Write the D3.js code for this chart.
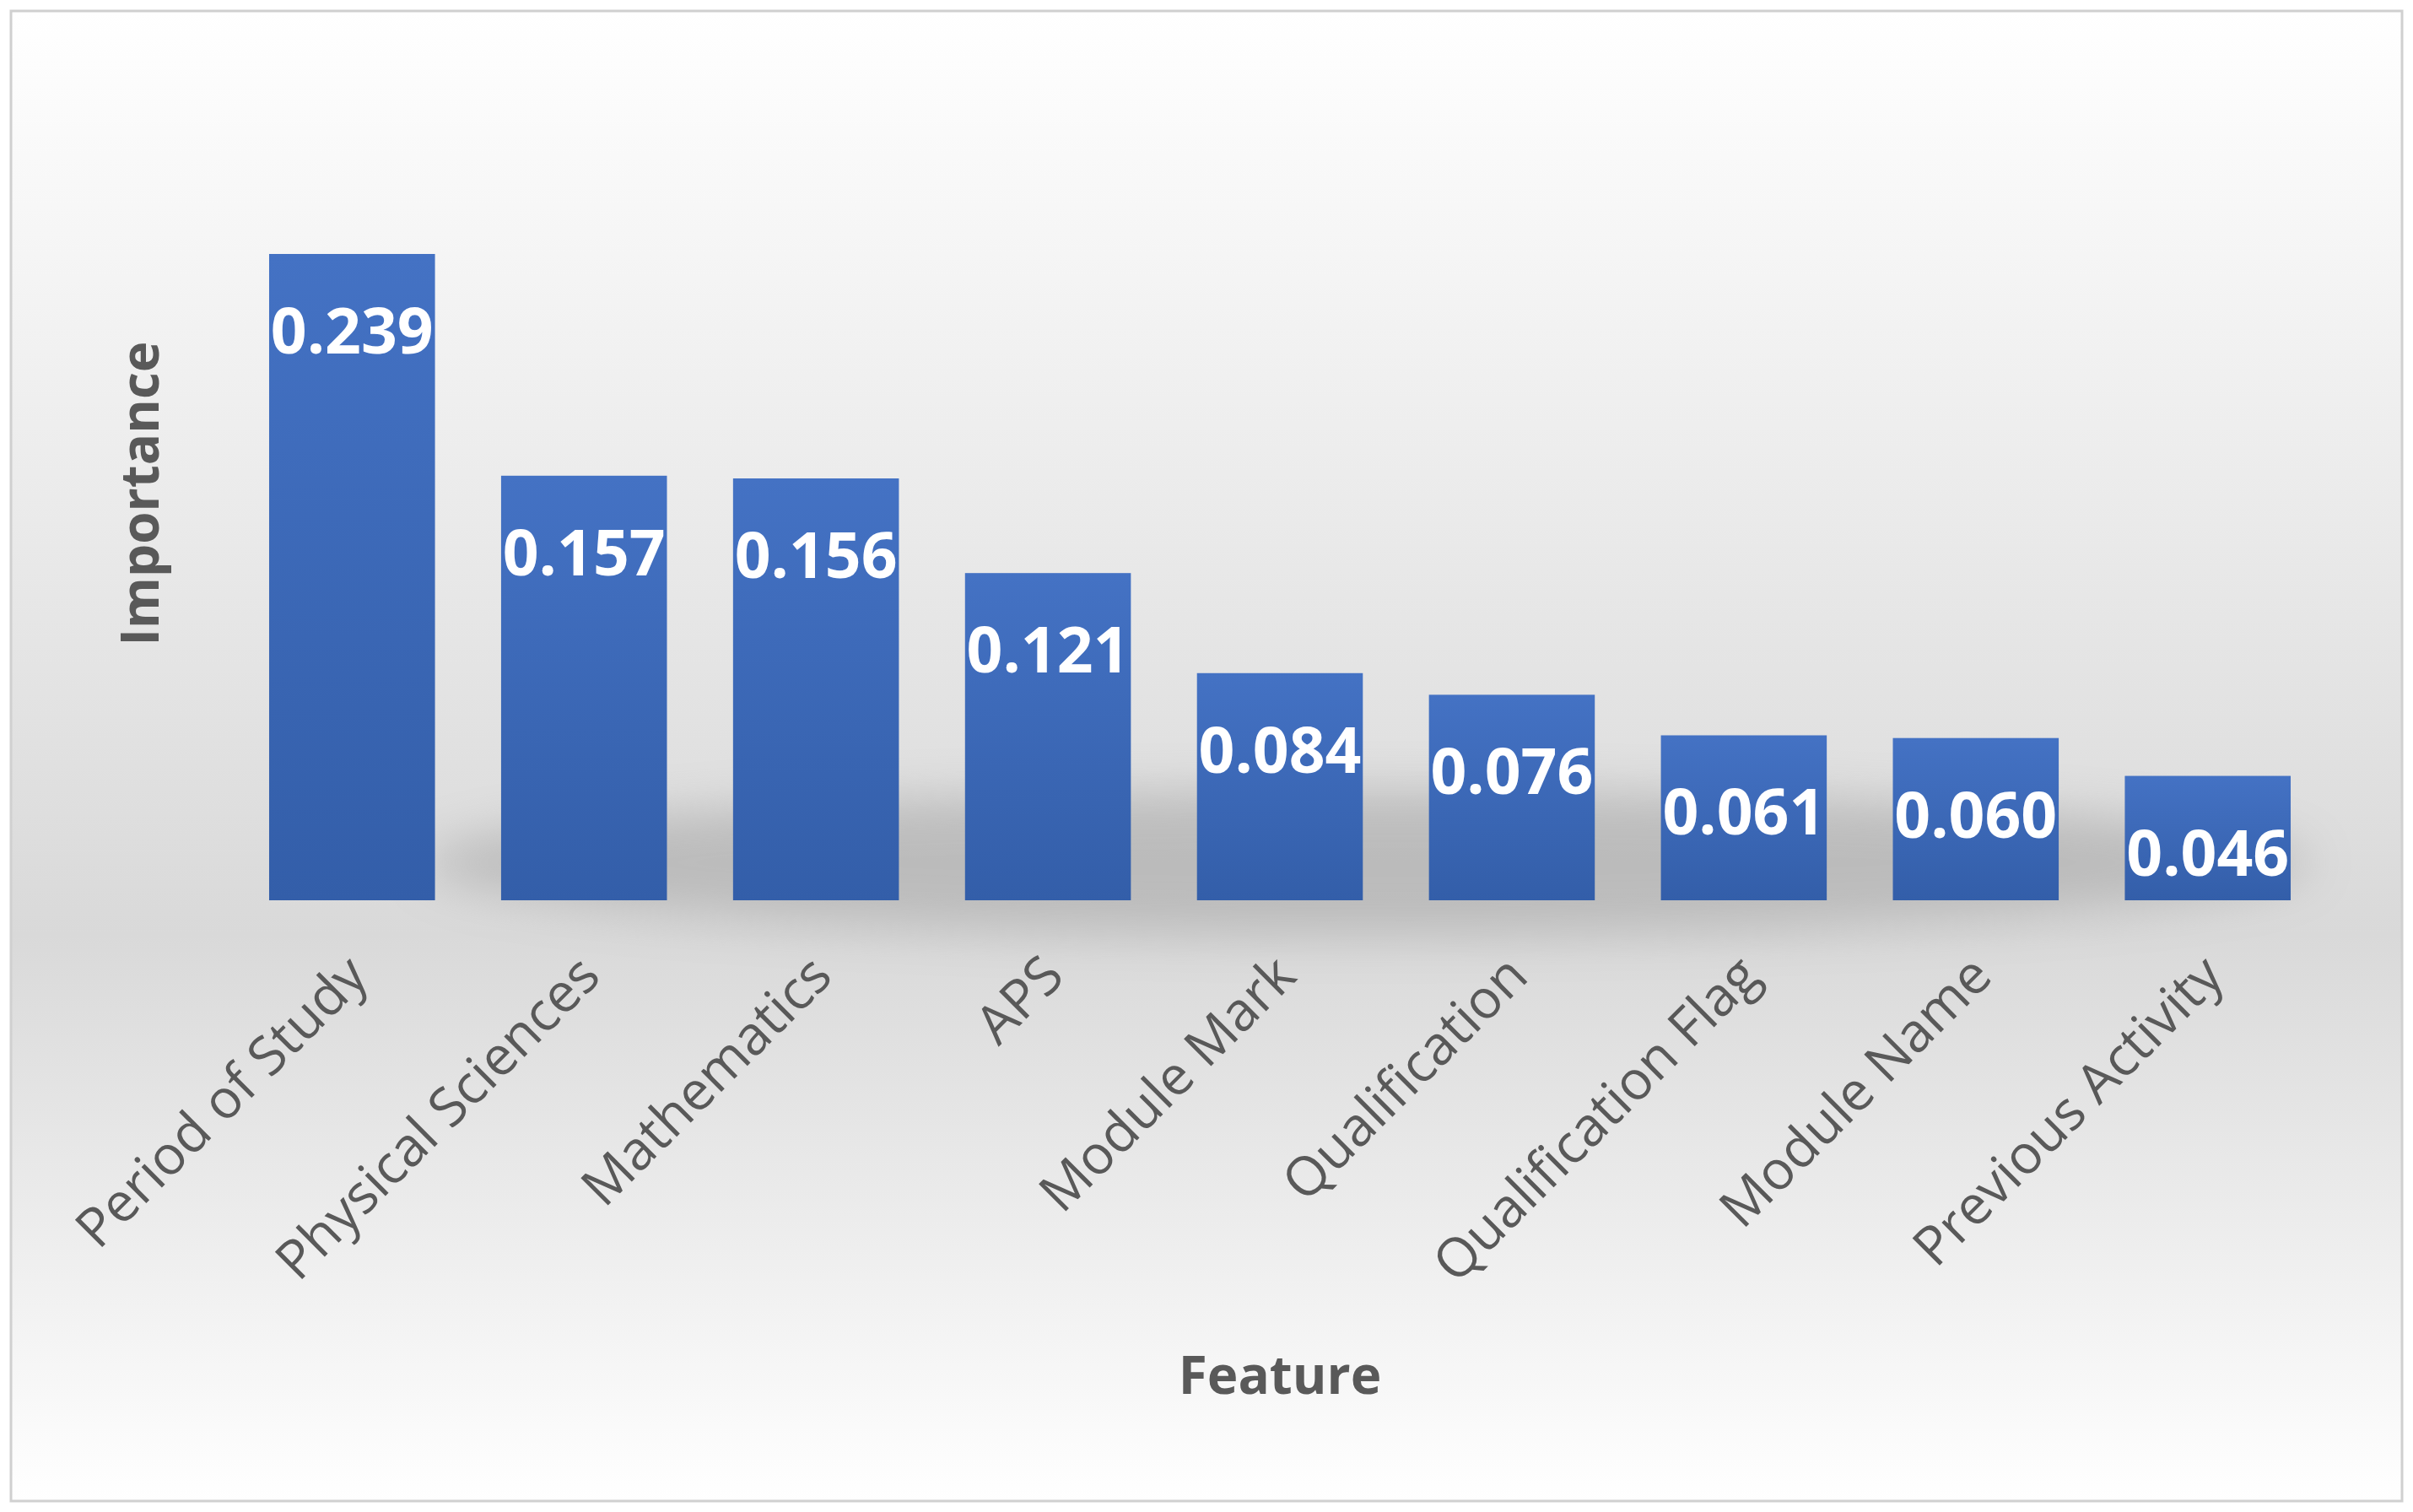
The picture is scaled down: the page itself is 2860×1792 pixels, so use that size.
<!DOCTYPE html>
<html><head><meta charset="utf-8">
<script src="https://cdn.jsdelivr.net/npm/d3@7"></script>
<style>body{margin:0;background:#fff}</style>
</head><body>
<script>
var features = ["Period of Study", "Physical Sciences", "Mathematics", "APS", "Module Mark",
    "Qualification", "Qualification Flag", "Module Name", "Previous Activity"];
var importance = [0.239, 0.157, 0.156, 0.121, 0.084, 0.076, 0.061, 0.060, 0.046];

var W = 2860, H = 1792;
var baseline = 1067;
var svg = d3.select("body").append("svg").attr("width", W).attr("height", H);
var defs = svg.append("defs");

// background gradient
var bg = defs.append("linearGradient").attr("id", "bg").attr("x1", 0).attr("y1", 0).attr("x2", 0).attr("y2", 1);
bg.append("stop").attr("offset", "0%").attr("stop-color", "#ffffff");
bg.append("stop").attr("offset", "62%").attr("stop-color", "#d9d9d9");
bg.append("stop").attr("offset", "100%").attr("stop-color", "#ffffff");

var bar = defs.append("linearGradient").attr("id", "bar").attr("x1", 0).attr("y1", 0).attr("x2", 0).attr("y2", 1);
bar.append("stop").attr("offset", "0%").attr("stop-color", "#4472c4");
bar.append("stop").attr("offset", "100%").attr("stop-color", "#335ea9");

defs.append("filter").attr("id", "blur").attr("x", "-20%").attr("y", "-100%").attr("width", "140%").attr("height", "300%")
    .append("feGaussianBlur").attr("stdDeviation", 28);

svg.append("rect").attr("x", 13).attr("y", 13).attr("width", W - 26).attr("height", H - 26)
    .attr("fill", "url(#bg)").attr("stroke", "#d0d0d0").attr("stroke-width", 3);

var x = d3.scaleBand().domain(features).range([264, 2770]).paddingInner(0.285).paddingOuter(0.2);
var y = d3.scaleLinear().domain([0, 0.239]).range([baseline, 301]);

// shadow under the bars
svg.append("ellipse").attr("cx", 1620).attr("cy", baseline - 45).attr("rx", 1120).attr("ry", 85)
    .attr("fill", "#8c8c8c").attr("opacity", 0.4).attr("filter", "url(#blur)");

var g = svg.append("g");
g.selectAll("rect.b").data(importance).enter().append("rect").attr("class", "b")
    .attr("x", function (d, i) { return x(features[i]); })
    .attr("y", function (d) { return y(d); })
    .attr("width", x.bandwidth())
    .attr("height", function (d) { return baseline - y(d); })
    .attr("fill", "url(#bar)");

g.selectAll("text.v").data(importance).enter().append("text").attr("class", "v")
    .attr("x", function (d, i) { return x(features[i]) + x.bandwidth() / 2; })
    .attr("y", function (d) { return y(d) + 118; })
    .attr("text-anchor", "middle")
    .style("font-family", "Open Sans").style("font-weight", "bold").style("font-size", "75px")
    .attr("fill", "#fff")
    .text(function (d) { return d.toFixed(3); });

// category labels
g.selectAll("text.c").data(features).enter().append("text").attr("class", "c")
    .attr("transform", function (d) {
        return "translate(" + (x(d) + x.bandwidth() / 2 + 22) + ",1160) rotate(-45)";
    })
    .attr("text-anchor", "end")
    .style("font-family", "Open Sans").style("font-size", "64px")
    .attr("fill", "#595959")
    .text(function (d) { return d; });

svg.append("text").attr("transform", "translate(188,585) rotate(-90)")
    .attr("text-anchor", "middle")
    .style("font-family", "Open Sans").style("font-weight", "bold").style("font-size", "62px")
    .attr("fill", "#595959").text("Importance");

svg.append("text").attr("x", 1517).attr("y", 1652)
    .attr("text-anchor", "middle")
    .style("font-family", "Open Sans").style("font-weight", "bold").style("font-size", "62px")
    .attr("fill", "#595959").text("Feature");
</script>
</body></html>
